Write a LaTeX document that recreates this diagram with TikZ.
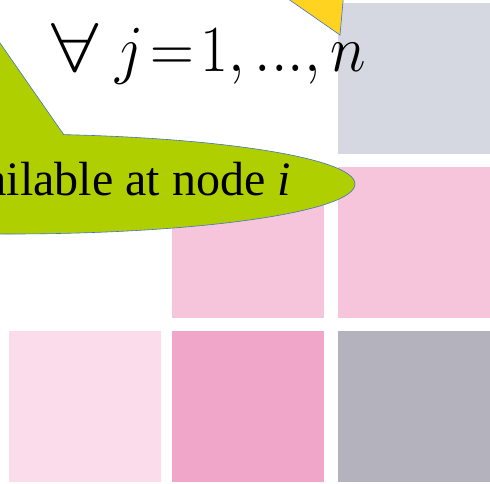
\documentclass[tikz,border=0pt]{standalone}
\usepackage{fontspec}
\setmainfont{Liberation Serif}
\usetikzlibrary{shapes.geometric}
\definecolor{sqgray}{RGB}{213,216,224}
\definecolor{sqpink}{RGB}{246,197,219}
\definecolor{sqlight}{RGB}{250,220,234}
\definecolor{sqdeep}{RGB}{240,166,200}
\definecolor{sqdark}{RGB}{180,178,189}
\definecolor{calgreen}{RGB}{175,207,0}
\definecolor{calyellow}{RGB}{255,211,32}
\definecolor{calline}{RGB}{68,114,196}
\tikzset{
  sqbox/.style={rectangle, draw=none, inner sep=0pt, minimum width=152pt, minimum height=151pt, anchor=north west},
  calborder/.style={draw=calline, line width=0.6pt},
}
\begin{document}
\begin{tikzpicture}[x=1pt,y=-1pt]
\useasboundingbox (0,0) rectangle (490,483);
\clip (0,0) rectangle (490,483);
\fill[white] (0,0) rectangle (490,483);
% squares
\node[sqbox, fill=sqgray]  (s13) at (338,3) {};
\node[sqbox, fill=sqpink]  (s22) at (172,167) {};
\node[sqbox, fill=sqpink]  (s23) at (338,167) {};
\node[sqbox, fill=sqlight] (s31) at (9,331) {};
\node[sqbox, fill=sqdeep]  (s32) at (172,331) {};
\node[sqbox, fill=sqdark]  (s33) at (338,331) {};
% yellow callout (pointer only visible)
\coordinate (ytip) at (340,35);
\coordinate (yl) at (261,-20);
\coordinate (yr) at (345,-20);
\filldraw[fill=calyellow, calborder, line join=miter] (yl) -- (ytip) -- (yr) -- cycle;
% green callout
\node[ellipse, fill=calgreen, calborder, minimum width=692pt, minimum height=100pt, inner sep=0pt] (gell) at (9,184) {};
\coordinate (gtip) at (-32,-3);
\coordinate (gb1) at (64,135);
\coordinate (gb2) at (-150,141);
\fill[calgreen] (gb2) -- (gtip) -- (gb1) -- (64,150) -- (-150,150) -- cycle;
\draw[calborder] (gb2) -- (gtip) -- (gb1);
% texts
\node[anchor=base east, inner sep=0pt, font=\fontsize{48}{56}\selectfont] (gtext) at (291,195) {available at node \textit{i}};
\node[anchor=base west, inner sep=0pt, font=\fontsize{24.88}{30}\selectfont] (formula) at (51,71) {\scalebox{2.44}[2.65]{$\scalebox{1.4}[1.05]{$\forall$}\;j\!=\!1,{.}{.}{.},n$}};
\end{tikzpicture}
\end{document}
